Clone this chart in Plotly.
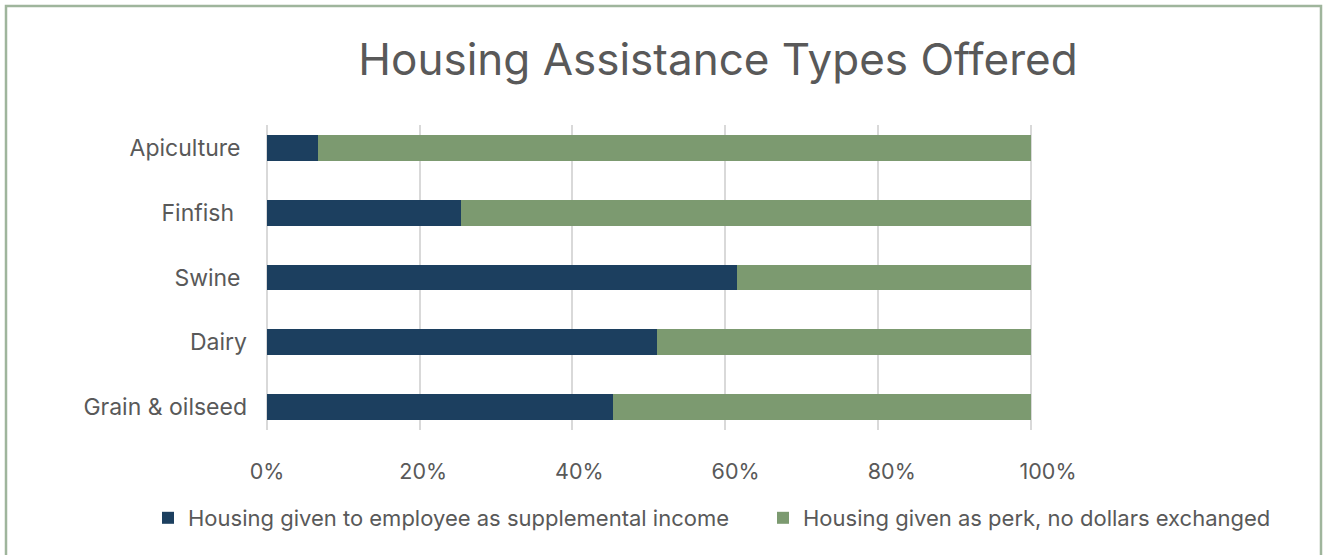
import plotly.graph_objects as go

# Categories listed bottom-to-top as they appear on the y axis
sectors = ["Grain & oilseed", "Dairy", "Swine", "Finfish", "Apiculture"]
# Axis labels as typed in the source sheet (some carry trailing spaces)
sector_labels = ["Grain & oilseed", "Dairy", "Swine\u00a0", "Finfish\u00a0\u00a0", "Apiculture\u00a0"]

# Share of operations offering each type of housing assistance (%)
supplemental_income = [45.3, 51.1, 61.5, 25.4, 6.7]
perk_no_dollars = [54.7, 48.9, 38.5, 74.6, 93.3]

series_names = [
    "Housing given to employee as supplemental income",
    "Housing given as perk, no dollars exchanged",
]
x_ticks = [0, 20, 40, 60, 80, 100]
x_tick_labels = ["0%", "20%", "40%", "60%", "80%", "100%"]

DARK = "#1c3f5f"
GREEN = "#7c9a70"
TEXT = "#595959"
GRID = "#d9d9d9"
FONT = "Inter, Noto Sans, sans-serif"

W, H = 1326, 555
L, R, T, B = 267, 278, 125, 125
# the percentage labels run on a slightly wider pitch than the gridlines
LABEL_STRETCH = 781 / 763.5

fig = go.Figure()
fig.add_trace(go.Bar(
    y=sectors, x=supplemental_income, name=series_names[0], orientation="h",
    marker=dict(color=DARK, line=dict(width=0)), width=0.4, legend="legend",
))
fig.add_trace(go.Bar(
    y=sectors, x=perk_no_dollars, name=series_names[1], orientation="h",
    marker=dict(color=GREEN, line=dict(width=0)), width=0.4, legend="legend2",
))
# empty carrier so the percentage label axis gets drawn
fig.add_trace(go.Scatter(
    x=x_ticks, y=[sectors[0]] * len(x_ticks), xaxis="x2", mode="none",
    showlegend=False, hoverinfo="skip",
))

# outer frame around the whole chart
pw, ph = W - L - R, H - T - B
def px_x(p):
    return (p - L) / pw
def px_y(p):
    return 1 - (p - T) / ph

fig.add_shape(type="rect", xref="paper", yref="paper",
              x0=px_x(6), x1=px_x(1321), y0=px_y(580), y1=px_y(6),
              line=dict(color="#9fb59c", width=2.5), fillcolor="rgba(0,0,0,0)",
              layer="above")

legend_style = dict(orientation="h", xref="container", yref="container",
                    xanchor="left", y=1 - 518 / H, yanchor="middle",
                    font=dict(size=22, color=TEXT, family=FONT),
                    itemwidth=30, bgcolor="rgba(0,0,0,0)")

fig.update_layout(
    width=W, height=H,
    margin=dict(l=L, r=R, t=T, b=B, autoexpand=False),
    barmode="stack",
    paper_bgcolor="white", plot_bgcolor="white",
    font=dict(family=FONT, color=TEXT, size=22),
    title=dict(text="Housing Assistance Types Offered", x=718 / W, xanchor="center",
               y=1 - 60 / H, yanchor="middle", xref="container", yref="container",
               font=dict(size=44, color=TEXT, family=FONT)),
    showlegend=True,
    legend=dict(x=148 / W, **legend_style),
    legend2=dict(x=763 / W, **legend_style),
    xaxis=dict(range=[0, 100 * LABEL_STRETCH], tickvals=x_ticks,
               showticklabels=False,
               showgrid=True, gridcolor=GRID, gridwidth=1.5,
               zeroline=True, zerolinecolor=GRID, zerolinewidth=1.5,
               showline=False, ticks=""),
    xaxis2=dict(overlaying="x", anchor="y", side="bottom", range=[0, 100],
                tickvals=x_ticks, ticktext=x_tick_labels,
                showgrid=False, zeroline=False, showline=False, ticks="",
                ticklabelstandoff=26, tickfont=dict(size=21.5, color=TEXT)),
    yaxis=dict(range=[-0.35, 4.35], tickvals=sectors, ticktext=sector_labels,
               showgrid=False, zeroline=False,
               showline=False, ticks="", ticklabelstandoff=19,
               tickfont=dict(size=23, color=TEXT)),
)

fig.write_html("out.html")
